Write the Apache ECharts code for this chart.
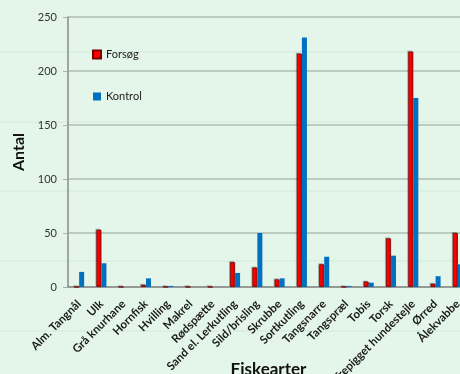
<!DOCTYPE html>
<html>
<head>
<meta charset="utf-8">
<script src="https://cdn.jsdelivr.net/npm/echarts@6/dist/echarts.min.js"></script>
<style>
  html, body { margin: 0; padding: 0; background: #e4f5ea; }
  #chart { width: 460px; height: 374px; }
</style>
</head>
<body>
<div id="chart"></div>
<script>
// Fangst pr. fiskeart
const categories = [
  'Alm. Tangnål', 'Ulk', 'Grå knurhane', 'Hornfisk', 'Hvilling', 'Makrel',
  'Rødspætte', 'Sand el. Lerkutling', 'Sild/brisling', 'Skrubbe', 'Sortkutling',
  'Tangsnarre', 'Tangspræl', 'Tobis', 'Torsk', 'Trepigget hundestejle', 'Ørred',
  'Ålekvabbe'
];
const forsoeg = [0, 53, 0, 2, 0, 0, 0, 23, 18, 7, 216, 21, 0, 5, 45, 218, 3, 50];
const kontrol = [14, 22, 0, 8, 1, 0, 0, 13, 50, 8, 231, 28, 1, 4, 29, 175, 10, 21];

const chart = echarts.init(document.getElementById('chart'));

// faint horizontal stripes of the slide background
const stripeYs = [52, 122, 191, 261, 331];
const stripes = stripeYs.map(y => ({
  type: 'line', z: -10, silent: true,
  shape: { x1: 0, y1: y, x2: 460, y2: y },
  style: { stroke: '#d2eadb', lineWidth: 1 }
}));

const font = 'Lato, "Open Sans", sans-serif';

chart.setOption({
  backgroundColor: '#e4f5ea',
  animation: false,
  textStyle: { fontFamily: font },
  graphic: stripes,
  grid: {
    left: 68, top: 17, width: 401, bottom: 87,
    containLabel: false, outerBoundsMode: 'none'
  },
  legend: {
    orient: 'vertical',
    left: 87, top: 44,
    itemWidth: 8, itemHeight: 8, itemGap: 31,
    icon: 'rect',
    textStyle: { fontSize: 11, color: '#222', fontFamily: font },
    data: ['Forsøg', 'Kontrol']
  },
  xAxis: {
    type: 'category',
    data: categories,
    name: 'Fiskearter',
    nameLocation: 'middle',
    nameGap: 74,
    nameMoveOverlap: false,
    nameTextStyle: { fontSize: 17, fontWeight: 'bold', color: '#111', fontFamily: font },
    axisLine: { lineStyle: { color: '#8a8a8a', width: 1.5 } },
    axisTick: { show: false },
    axisLabel: {
      interval: 0, rotate: 45, fontSize: 11.5, fontWeight: 'bold',
      color: '#1a1a1a', margin: 15, fontFamily: font
    }
  },
  yAxis: {
    type: 'value',
    min: 0, max: 250, interval: 50,
    name: 'Antal',
    nameLocation: 'middle',
    nameGap: 39,
    nameTextStyle: { fontSize: 16, fontWeight: 'bold', color: '#111', fontFamily: font },
    axisLine: { show: true, lineStyle: { color: '#8a8a8a', width: 1.5 } },
    axisTick: { show: true, length: 5, lineStyle: { color: '#a8b4aa' } },
    axisLabel: { fontSize: 11, color: '#333', margin: 11, fontFamily: font },
    splitLine: { lineStyle: { color: '#aebcb0', width: 1.5 } }
  },
  series: [
    {
      name: 'Forsøg', type: 'bar', data: forsoeg,
      barWidth: 5, barGap: '0%',
      itemStyle: {
        color: '#ff0000', borderColor: '#7a0000', borderWidth: 0.8,
        shadowColor: 'rgba(0,0,0,0.25)', shadowOffsetX: -1, shadowOffsetY: -1
      }
    },
    {
      name: 'Kontrol', type: 'bar', data: kontrol,
      barWidth: 5, barGap: '0%',
      itemStyle: { color: '#0070c0' }
    }
  ]
});
</script>
</body>
</html>
